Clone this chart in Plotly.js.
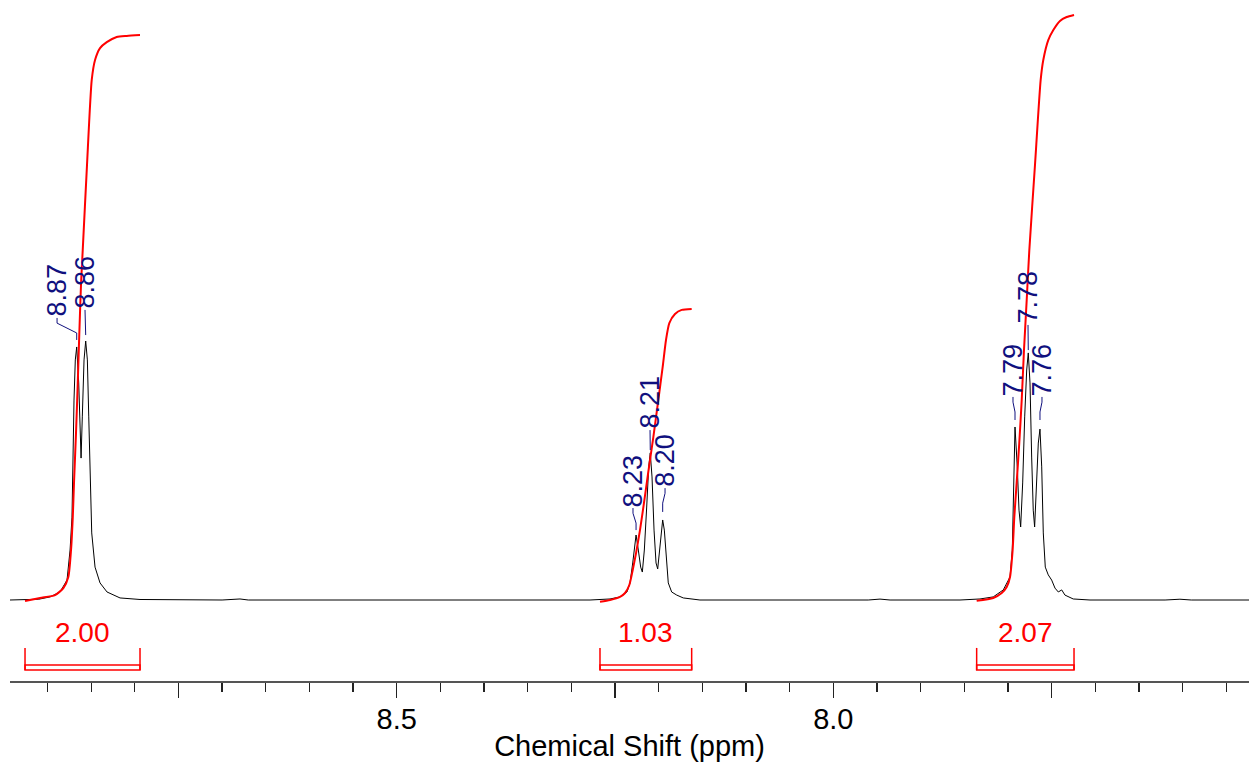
<!DOCTYPE html>
<html>
<head>
<meta charset="utf-8">
<script src="https://cdn.plot.ly/plotly-3.0.1.min.js"></script>
<style>html,body{margin:0;padding:0;background:#fff;}#chart{width:1249px;height:765px;}</style>
</head>
<body>
<div id="chart"></div>
<script>
// ---- Spectrum (ppm, relative intensity) ----
const specPpm = [8.9429, 8.9100, 8.8970, 8.8856, 8.8776, 8.8741, 8.8719, 8.8707, 8.8696, 8.8681, 8.8665, 8.8642, 8.8627, 8.8615, 8.8601, 8.8581, 8.8562, 8.8543, 8.8527, 8.8512, 8.8493, 8.8455, 8.8398, 8.8318, 8.8169, 8.7940, 8.7000, 8.6795, 8.6700,
  8.3130, 8.2786, 8.2557, 8.2443, 8.2363, 8.2328, 8.2297, 8.2279, 8.2259, 8.2233, 8.2206, 8.2187, 8.2164, 8.2137, 8.2114, 8.2096, 8.2076, 8.2053, 8.2030, 8.2011, 8.1993, 8.1973, 8.1954, 8.1935, 8.1916, 8.1890, 8.1851, 8.1793, 8.1718, 8.1527,
  7.9600, 7.9465, 7.9350,
  7.8549, 7.8320, 7.8168, 7.8053, 7.7976, 7.7950, 7.7934, 7.7919, 7.7893, 7.7873, 7.7854, 7.7831, 7.7808, 7.7785, 7.7767, 7.7747, 7.7728, 7.7710, 7.7694, 7.7671, 7.7652, 7.7633, 7.7613, 7.7595, 7.7572, 7.7538, 7.7499, 7.7461, 7.7423, 7.7384, 7.7347, 7.7252, 7.7060,
  7.6200, 7.6030, 7.5900, 7.5239];
const specInt = [0, 0.3, 1.2, 3.1, 7.7, 19.3, 32.0, 57.9, 77.2, 92.7, 97.7, 83.8, 68.3, 54.8, 70.7, 92.7, 100, 92.7, 70.7, 45.2, 25.9, 12.7, 6.6, 3.1, 0.8, 0.2, 0, 0.4, 0,
  0, 0, 0.4, 1.2, 3.1, 6.6, 14.3, 20.5, 25.1, 19.3, 12.7, 10.8, 19.3, 35.9, 51.4, 56.8, 47.5, 27.0, 14.3, 12.0, 18.1, 27.0, 30.9, 27.0, 16.6, 6.6, 3.1, 1.9, 0.8, 0,
  0, 0.35, 0,
  0, 0.4, 1.2, 3.9, 8.9, 19.3, 45.2, 66.8, 51.4, 34.7, 28.2, 45.2, 70.7, 88.8, 95.4, 83.8, 55.2, 34.7, 28.2, 45.2, 60.6, 66.0, 51.4, 25.9, 12.7, 9.7, 7.7, 4.6, 3.1, 3.9, 1.9, 0.4, 0,
  0, 0.3, 0, 0];

// ---- Integral curves ----
const int1Ppm = [8.9257, 8.9085, 8.8913, 8.8818, 8.8761, 8.8730, 8.8710, 8.8696, 8.8673, 8.8653, 8.8635, 8.8615, 8.8596, 8.8547, 8.8493, 8.8455, 8.8398, 8.8321, 8.8207, 8.8092, 8.7940];
const int1Val = [-0.4, 0.8, 1.9, 4.6, 8.9, 19.3, 32.0, 45.2, 64.5, 83.8, 103.1, 122.4, 135.1, 168.0, 200.8, 208.5, 213.1, 215.4, 217.4, 217.8, 218.1];
const int2Ppm = [8.2672, 8.2557, 8.2443, 8.2385, 8.2336, 8.2297, 8.2259, 8.2214, 8.2168, 8.2119, 8.2061, 8.2004, 8.1954, 8.1916, 8.1878, 8.1813, 8.1736, 8.1622];
const int2Val = [-0.7, 0, 1.2, 2.7, 5.8, 11.6, 18.1, 27.0, 37.5, 49.4, 62.9, 77.2, 90.0, 100.4, 106.9, 110.4, 112.0, 112.4];
const int3Ppm = [7.8358, 7.8168, 7.8071, 7.8014, 7.7976, 7.7946, 7.7927, 7.7900, 7.7870, 7.7842, 7.7816, 7.7785, 7.7755, 7.7690, 7.7625, 7.7595, 7.7538, 7.7480, 7.7404, 7.7327, 7.7243];
const int3Val = [-0.3, 0.8, 2.7, 5.0, 8.9, 19.3, 32.0, 45.2, 60.6, 77.2, 96.5, 115.8, 135.1, 168.0, 200.8, 208.5, 216.2, 220.1, 223.6, 225.1, 225.9];
const integralLabels = ['2.00', '1.03', '2.07'];

// ---- Peak picking labels ----
const peakLabels = ['8.87', '8.86', '8.23', '8.21', '8.20', '7.79', '7.78', '7.76'];
const peakPpm    = [8.8665, 8.8562, 8.2259, 8.2096, 8.1954, 7.7919, 7.7767, 7.7633];
const labelPpm   = [8.8890, 8.8570, 8.2294, 8.2099, 8.1927, 7.7942, 7.7770, 7.7610];
const labelBase  = [108.9, 112.0, 35.5, 65.6, 43.2, 78.4, 106.2, 78.4];
const leaderEnd  = [100.4, 102.3, 27.0, 57.9, 34.0, 69.5, 96.5, 69.5];

// ---- Axis ticks ----
const tickVals = [8.75, 8.5, 8.25, 8.0, 7.75];
const tickText = ['', '8.5', '', '8.0', ''];

const FONT = 'Liberation Sans, Arial, sans-serif';
const NAVY = '#10107e';
const RED = '#ff0000';

const traces = [];
traces.push({x: specPpm, y: specInt, mode: 'lines', line: {color: '#000', width: 1}, hoverinfo: 'skip'});
const ints = [[int1Ppm, int1Val], [int2Ppm, int2Val], [int3Ppm, int3Val]];
ints.forEach(([p, v]) => traces.push({x: p, y: v, mode: 'lines', line: {color: RED, width: 2, shape: 'spline', smoothing: 0.6}, hoverinfo: 'skip'}));

// leader lines
const lx = [], ly = [];
peakLabels.forEach((t, i) => {
  lx.push(labelPpm[i], labelPpm[i], peakPpm[i], peakPpm[i], null);
  ly.push(labelBase[i], labelBase[i] - 2, labelBase[i] - 5.8, leaderEnd[i], null);
});
traces.push({x: lx, y: ly, mode: 'lines', line: {color: NAVY, width: 1}, hoverinfo: 'skip', connectgaps: false});

const annotations = [];
peakLabels.forEach((t, i) => annotations.push({
  x: labelPpm[i], y: labelBase[i], xref: 'x', yref: 'y', text: t, showarrow: false,
  textangle: -90, xanchor: 'center', yanchor: 'bottom', borderpad: 0,
  font: {family: FONT, size: 27, color: NAVY}
}));
const shapes = [];
ints.forEach(([p, v], i) => {
  const x0 = p[0], x1 = p[p.length - 1];
  annotations.push({x: (x0 + x1) / 2, y: -12.7, xref: 'x', yref: 'y', text: integralLabels[i], showarrow: false,
    xanchor: 'center', yanchor: 'middle', font: {family: FONT, size: 28, color: RED}});
  shapes.push({type: 'rect', xref: 'x', yref: 'y', x0: x0, x1: x1, y0: -25.1, y1: -27.0, line: {color: RED, width: 1.5}});
  shapes.push({type: 'line', xref: 'x', yref: 'y', x0: x0, x1: x0, y0: -18.5, y1: -27.0, line: {color: RED, width: 1.5}});
  shapes.push({type: 'line', xref: 'x', yref: 'y', x0: x1, x1: x1, y0: -18.5, y1: -27.0, line: {color: RED, width: 1.5}});
});

const layout = {
  width: 1249, height: 765,
  margin: {l: 10, r: 0, t: 0, b: 84},
  paper_bgcolor: '#fff', plot_bgcolor: '#fff',
  showlegend: false,
  font: {family: FONT, color: '#000'},
  xaxis: {
    range: [8.9429, 7.5239], showline: true, linecolor: '#555', linewidth: 1.5,
    showgrid: false, zeroline: false,
    ticks: 'outside', tickmode: 'array', tickvals: tickVals, ticktext: tickText,
    ticklen: 15, tickwidth: 1.5, tickcolor: '#222', ticklabelstandoff: -3,
    tickfont: {family: FONT, size: 29, color: '#000'},
    minor: {ticks: 'outside', tick0: 0, dtick: 0.05, ticklen: 9, tickwidth: 1.2, tickcolor: '#222', showgrid: false},
    title: {text: 'Chemical Shift (ppm)', font: {family: FONT, size: 29, color: '#000'}, standoff: 1},
    automargin: false
  },
  yaxis: {visible: false, range: [-31.27, 231.66], fixedrange: true},
  annotations: annotations,
  shapes: shapes
};
Plotly.newPlot('chart', traces, layout, {staticPlot: true, displayModeBar: false});
</script>
</body>
</html>
